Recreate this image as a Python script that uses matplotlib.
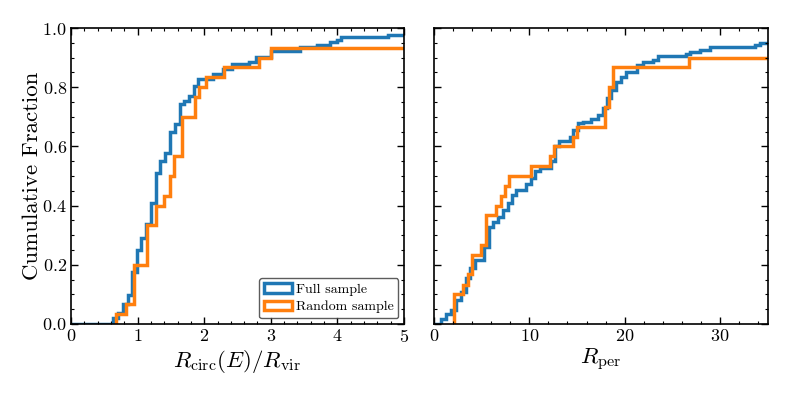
import matplotlib
matplotlib.use("Agg")
import matplotlib.pyplot as plt
from matplotlib.patches import Patch
from matplotlib.ticker import MultipleLocator

plt.rcParams['font.family'] = 'serif'
plt.rcParams['font.serif'] = ['cmr10']
plt.rcParams['mathtext.fontset'] = 'cm'
plt.rcParams['axes.formatter.use_mathtext'] = True

# left panel: R_circ(E)/R_vir
full_circ_edges = [0.0, 0.63, 0.70, 0.78, 0.85, 0.92, 0.99, 1.05, 1.13, 1.20, 1.28,
                   1.34, 1.41, 1.49, 1.56, 1.63, 1.70, 1.77, 1.84, 1.91, 2.13, 2.28,
                   2.42, 2.68, 2.78, 3.01, 3.44, 3.69, 3.89, 3.99, 4.06, 4.76, 6.0]
full_circ_frac = [0.0, 0.019, 0.038, 0.068, 0.098, 0.175, 0.251, 0.290, 0.336, 0.410,
                  0.510, 0.549, 0.577, 0.650, 0.676, 0.743, 0.752, 0.769, 0.803, 0.828,
                  0.844, 0.861, 0.878, 0.885, 0.901, 0.924, 0.936, 0.944, 0.952, 0.961,
                  0.970, 0.977]
rand_circ_edges = [0.68, 0.83, 0.95, 1.14, 1.28, 1.40, 1.48, 1.54, 1.66, 1.86, 1.92,
                   2.03, 2.30, 2.82, 3.00, 6.0]
rand_circ_frac = [0.033, 0.067, 0.2, 0.333, 0.4, 0.433, 0.5, 0.567, 0.7, 0.767, 0.8,
                  0.833, 0.867, 0.9, 0.933]

# right panel: R_per
full_per_edges = [0.0, 0.77, 1.30, 1.83, 2.35, 2.88, 3.33, 3.75, 4.27, 5.3, 5.78, 6.2,
                  6.72, 7.25, 7.77, 8.23, 8.65, 9.63, 10.15, 10.57, 11.1, 12.3, 12.67,
                  13.1, 14.25, 14.6, 15.1, 15.6, 16.5, 17.2, 17.7, 18.1, 18.55, 19.1,
                  19.6, 20.1, 21.3, 21.95, 23.0, 23.5, 26.4, 26.9, 27.9, 28.9, 33.7,
                  34.2, 40.0]
full_per_frac = [0.0, 0.016, 0.033, 0.047, 0.081, 0.109, 0.155, 0.188, 0.216, 0.261,
                 0.329, 0.346, 0.363, 0.386, 0.408, 0.436, 0.451, 0.473, 0.493, 0.517,
                 0.527, 0.549, 0.60, 0.619, 0.633, 0.654, 0.679, 0.684, 0.692, 0.707,
                 0.729, 0.763, 0.791, 0.817, 0.836, 0.853, 0.876, 0.884, 0.893, 0.904,
                 0.913, 0.919, 0.927, 0.936, 0.944, 0.951]
rand_per_edges = [2.1, 3.05, 3.57, 4.0, 4.97, 5.5, 6.47, 7.0, 7.5, 7.88, 10.15, 12.2,
                  12.6, 14.6, 15.0, 17.9, 18.4, 18.8, 26.7, 40.0]
rand_per_frac = [0.1, 0.133, 0.167, 0.233, 0.267, 0.367, 0.4, 0.433, 0.467, 0.5, 0.533,
                 0.567, 0.6, 0.633, 0.667, 0.733, 0.8, 0.867, 0.9]

c_full = '#1f77b4'
c_rand = '#ff7f0e'
lw = 2.5

fig = plt.figure(figsize=(7.89, 3.95), dpi=100)
ax1 = fig.add_axes([0.090, 0.180, 0.422, 0.749])
ax2 = fig.add_axes([0.550, 0.180, 0.423, 0.749], sharey=ax1)

ax1.stairs(full_circ_frac, full_circ_edges, baseline=0, fill=False, color=c_full, lw=lw)
ax1.stairs(rand_circ_frac, rand_circ_edges, baseline=0, fill=False, color=c_rand, lw=lw)
ax2.stairs(full_per_frac, full_per_edges, baseline=0, fill=False, color=c_full, lw=lw)
ax2.stairs(rand_per_frac, rand_per_edges, baseline=0, fill=False, color=c_rand, lw=lw)

ax1.set_xlim(0, 5)
ax2.set_xlim(0, 35)
ax1.set_ylim(0, 1)

ax1.xaxis.set_major_locator(MultipleLocator(1))
ax1.xaxis.set_minor_locator(MultipleLocator(0.2))
ax2.xaxis.set_major_locator(MultipleLocator(10))
ax2.xaxis.set_minor_locator(MultipleLocator(2))
ax1.yaxis.set_major_locator(MultipleLocator(0.2))
ax1.yaxis.set_minor_locator(MultipleLocator(0.05))

for ax in (ax1, ax2):
    ax.tick_params(which='both', direction='in', top=True, right=True, labelsize=13)
    ax.tick_params(which='major', length=5, width=1, pad=3)
    ax.tick_params(which='minor', length=2.5, width=0.8)
    for s in ax.spines.values():
        s.set_linewidth(1.2)
ax2.tick_params(labelleft=False)

ax1.set_ylabel('Cumulative Fraction', fontsize=16.5)
ax1.yaxis.set_label_coords(-0.088, 0.5)
ax1.set_xlabel(r'$R_{\rm circ}(E)/R_{\rm vir}$', fontsize=16.5, labelpad=2)
ax2.set_xlabel(r'$R_{\rm per}$', fontsize=16.5, labelpad=2)

handles = [Patch(facecolor='none', edgecolor=c_full, lw=lw, label='Full sample'),
           Patch(facecolor='none', edgecolor=c_rand, lw=lw, label='Random sample')]
leg = ax1.legend(handles=handles, loc='lower right', fontsize=10, handlelength=2.0,
                 handletextpad=0.3, borderpad=0.35, labelspacing=0.35, borderaxespad=0.4)
leg.get_frame().set_edgecolor('#333333')

fig.savefig('out.png', dpi=100)
